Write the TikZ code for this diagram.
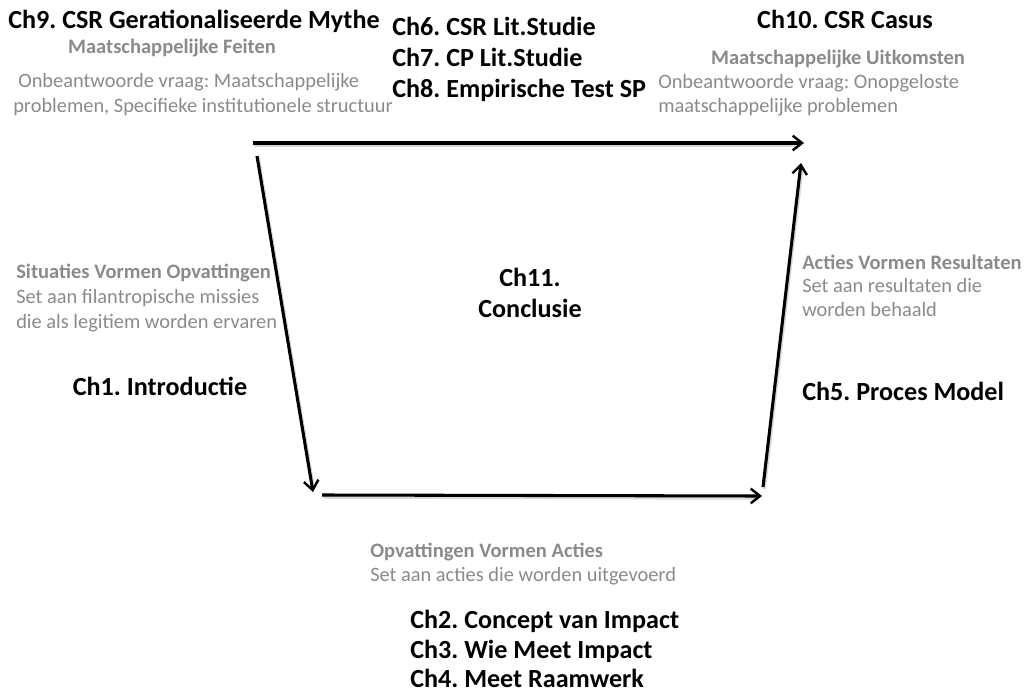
\documentclass[tikz,border=0pt]{standalone}
\usepackage{fontspec}
\setmainfont{Carlito}
\usetikzlibrary{arrows.meta}
\definecolor{lbl}{HTML}{8A8A8A}
\frenchspacing
\begin{document}
\begin{tikzpicture}[x=0.75pt,y=-0.75pt,
  head/.style={inner sep=0pt,anchor=base west,font=\fontsize{19.6}{24}\selectfont\bfseries\frenchspacing,text=black},
  headc/.style={head,anchor=base},
  sub/.style={inner sep=0pt,anchor=base west,font=\fontsize{15.4}{18}\selectfont\bfseries\frenchspacing,text=lbl},
  subc/.style={sub,anchor=base},
  txt/.style={inner sep=0pt,anchor=base west,font=\fontsize{15.3}{18}\selectfont\frenchspacing,text=lbl},
  flow/.style={line width=2.3pt,-{Straight Barb[length=7pt,width=11pt,line width=1.8pt]}},
  shade/.style={line width=2.6pt,black!15,shorten >=4pt}]
\useasboundingbox (0,0) rectangle (1033,693);
% texts
\node[head] (c9) at (8,28) {Ch9. CSR Gerationaliseerde Mythe};
\node[subc] (mf) at (172,53) {Maatschappelijke Feiten};
\node[txt] (mf1) at (18,87) {Onbeantwoorde vraag: Maatschappelijke};
\node[txt] (mf2) at (13,112) {problemen, Specifieke institutionele structuur};
\node[head] (c6) at (392,35) {Ch6. CSR Lit.Studie};
\node[head] (c7) at (392,66) {Ch7. CP Lit.Studie};
\node[head] (c8) at (392,97) {Ch8. Empirische Test SP};
\node[headc] (c10) at (845,28) {Ch10. CSR Casus};
\node[subc] (mu) at (838,64) {Maatschappelijke Uitkomsten};
\node[txt] (mu1) at (658,88) {Onbeantwoorde vraag: Onopgeloste};
\node[txt] (mu2) at (658,112) {maatschappelijke problemen};
\node[sub] (so) at (16,278) {Situaties Vormen Opvattingen};
\node[txt] (so1) at (16,303) {Set aan filantropische missies};
\node[txt] (so2) at (16,328) {die als legitiem worden ervaren};
\node[headc] (c1) at (160,395) {Ch1. Introductie};
\node[headc] (c11a) at (530,286) {Ch11.};
\node[headc] (c11b) at (530,317) {Conclusie};
\node[sub] (ar) at (802,269) {Acties Vormen Resultaten};
\node[txt] (ar1) at (802,292) {Set aan resultaten die};
\node[txt] (ar2) at (802,316) {worden behaald};
\node[head] (c5) at (802,400) {Ch5. Proces Model};
\node[sub] (oa) at (370,557) {Opvattingen Vormen Acties};
\node[txt] (oa1) at (370,581) {Set aan acties die worden uitgevoerd};
\node[head] (c2) at (410,628) {Ch2. Concept van Impact};
\node[head] (c3) at (410,658) {Ch3. Wie Meet Impact};
\node[head] (c4) at (410,687) {Ch4. Meet Raamwerk};
% connector end points
\coordinate (tA) at (253,143);
\coordinate (tB) at (804,143);
\coordinate (lA) at (257,156);
\coordinate (lB) at (313,492);
\coordinate (bA) at (322,495);
\coordinate (bB) at (762,496);
\coordinate (rA) at (763,487);
\coordinate (rB) at (801,163);
% shadows
\foreach \a/\b in {tA/tB,lA/lB,bA/bB,rA/rB}
  \draw[shade] ([shift={(1.2,2)}]\a) -- ([shift={(1.2,2)}]\b);
% arrows
\draw[flow] (tA) -- (tB);
\draw[flow] (lA) -- (lB);
\draw[flow] (bA) -- (bB);
\draw[flow] (rA) -- (rB);
\end{tikzpicture}
\end{document}
